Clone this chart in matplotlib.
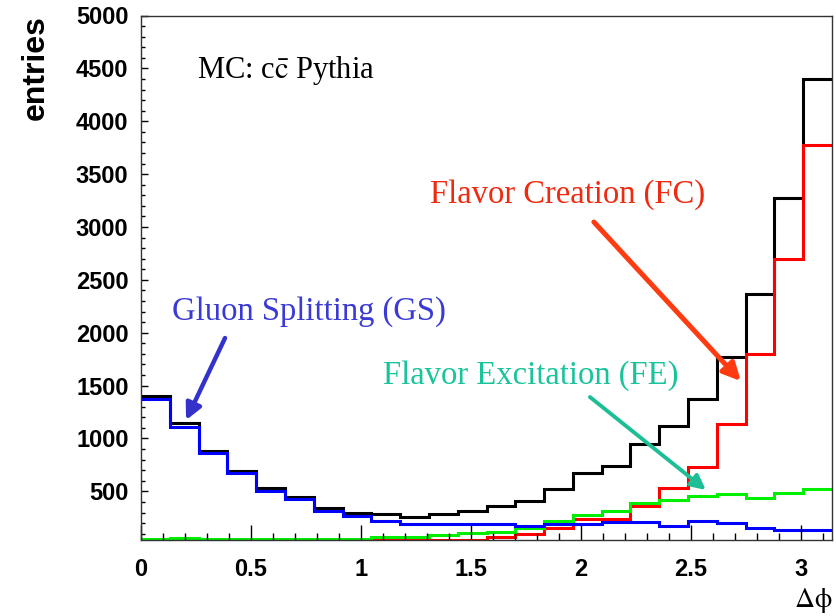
import numpy as np
import matplotlib
matplotlib.use("Agg")
import matplotlib.pyplot as plt
from matplotlib.ticker import MultipleLocator

plt.rcParams['mathtext.fontset'] = 'stix'

# 24 bins in delta phi from 0 to pi
n_bins = 24
edges = np.linspace(0, np.pi, n_bins + 1)

total = [1404, 1143, 884, 695, 529, 449, 340, 292, 286, 260, 283, 317,
         361, 409, 519, 670, 743, 945, 1118, 1370, 1773, 2363, 3271, 4397]
flavor_creation = [20, 44, 25, 25, 42, 42, 42, 42, 44, 44, 44, 44,
                   65, 97, 150, 236, 240, 361, 535, 728, 1135, 1799, 2694, 3775]
flavor_excitation = [45, 60, 45, 45, 50, 50, 50, 50, 70, 71, 87, 103,
                     118, 150, 220, 276, 316, 393, 418, 456, 475, 434, 487, 519]
gluon_splitting = [1373, 1111, 860, 670, 503, 428, 314, 267, 222, 193, 195, 195,
                   195, 172, 191, 191, 213, 213, 175, 222, 198, 150, 134, 134]

fig = plt.figure(figsize=(8.37, 6.16), dpi=100)
ax = fig.add_axes([141 / 837, 1 - 540 / 616, 691 / 837, 524.5 / 616])

ax.stairs(total, edges, baseline=None, color='black', lw=2.2)
ax.stairs(flavor_creation, edges, baseline=None, color='#ff0000', lw=2.2)
ax.stairs(flavor_excitation, edges, baseline=None, color='#00ee00', lw=2.2)
ax.stairs(gluon_splitting, edges, baseline=None, color='#0000ff', lw=2.2)

ax.set_xlim(0, np.pi)
ax.set_ylim(40, 5000)

ax.xaxis.set_major_locator(MultipleLocator(0.5))
ax.xaxis.set_minor_locator(MultipleLocator(0.1))
ax.yaxis.set_major_locator(MultipleLocator(500))
ax.yaxis.set_minor_locator(MultipleLocator(100))
ax.set_yticks(np.arange(500, 5001, 500))
ax.set_xticks([0, 0.5, 1, 1.5, 2, 2.5, 3])
ax.set_xticklabels(['0', '0.5', '1', '1.5', '2', '2.5', '3'])

ax.tick_params(axis='x', which='major', direction='in', length=10.8, width=1,
               pad=13, top=False)
ax.tick_params(axis='x', which='minor', direction='in', length=5, width=1, top=False)
ax.tick_params(axis='y', which='major', direction='in', length=5.3, width=1,
               pad=9, right=False)
ax.tick_params(axis='y', which='minor', direction='in', length=2.6, width=1, right=False)
for lab in ax.get_xticklabels() + ax.get_yticklabels():
    lab.set_fontfamily('Liberation Sans')
    lab.set_fontweight('bold')
    lab.set_fontsize(17)

for s in ax.spines.values():
    s.set_linewidth(1)
    s.set_color('#333333')

ax.set_ylabel('entries', fontfamily='Liberation Sans', fontweight='bold',
              fontsize=23, loc='top')
ax.yaxis.set_label_coords(-0.13, 1.0)
ax.text(1.0, -0.115, r'$\mathrm{\Delta\phi}$', transform=ax.transAxes, ha='right',
        va='center', fontsize=20)

serif = 'Liberation Serif'
ax.text(0.081, 0.896, r'MC: c$\bar{\mathrm{c}}$ Pythia', transform=ax.transAxes,
        fontfamily=serif, fontsize=22, va='center', ha='left')
ax.text(0.418, 0.658, 'Flavor Creation (FC)', transform=ax.transAxes,
        fontfamily=serif, fontsize=23.5, color='#ee2a10', va='center')
ax.text(0.045, 0.435, 'Gluon Splitting (GS)', transform=ax.transAxes,
        fontfamily=serif, fontsize=23.5, color='#3a3ad4', va='center')
ax.text(0.350, 0.313, 'Flavor Excitation (FE)', transform=ax.transAxes,
        fontfamily=serif, fontsize=23.5, color='#19c49c', va='center')

# arrows pointing at the curves
ax.annotate('', xy=(0.205, 1174), xytext=(0.382, 1950),
            arrowprops=dict(arrowstyle='-|>', color='#3333cc', lw=3.2,
                            mutation_scale=24, shrinkA=0, shrinkB=0))
ax.annotate('', xy=(2.727, 1543), xytext=(2.059, 3047),
            arrowprops=dict(arrowstyle='-|>', color='#ff3b12', lw=3.6,
                            mutation_scale=26, shrinkA=0, shrinkB=0))
ax.annotate('', xy=(2.568, 513), xytext=(2.041, 1392),
            arrowprops=dict(arrowstyle='-|>', color='#1cbf95', lw=2.8,
                            mutation_scale=22, shrinkA=0, shrinkB=0))

fig.savefig('out.png', dpi=100)
